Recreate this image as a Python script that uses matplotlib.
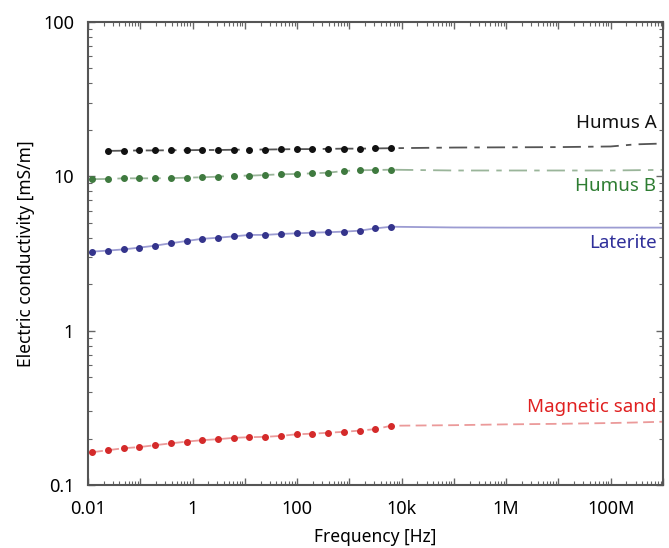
import numpy as np
import matplotlib
matplotlib.use("Agg")
import matplotlib.pyplot as plt
from matplotlib.ticker import LogLocator, FuncFormatter, NullFormatter

plt.rcParams['font.family'] = ['Noto Sans', 'DejaVu Sans']

# measured frequencies (Hz), factor-2 spacing
freq = [0.012, 0.024, 0.048, 0.096, 0.19, 0.38, 0.77, 1.5, 3.1, 6.1,
        12.3, 24.6, 49, 98, 197, 393, 786, 1570, 3150, 6290]

humusA = [None, 14.6, 14.65, 14.7, 14.7, 14.75, 14.75, 14.8, 14.8, 14.85,
          14.9, 14.9, 14.95, 15.0, 15.0, 15.05, 15.1, 15.1, 15.15, 15.2]
humusB = [9.58, 9.61, 9.70, 9.70, 9.70, 9.73, 9.79, 9.85, 9.94, 10.09,
          10.09, 10.19, 10.30, 10.35, 10.45, 10.55, 10.82, 10.94, 10.98, 11.03]
laterite = [3.25, 3.30, 3.36, 3.45, 3.55, 3.68, 3.81, 3.93, 4.00, 4.08,
            4.17, 4.17, 4.23, 4.27, 4.31, 4.34, 4.38, 4.44, 4.60, 4.71]
magsand = [0.163, 0.168, 0.173, 0.176, 0.181, 0.186, 0.191, 0.195, 0.198, 0.202,
           0.204, 0.205, 0.208, 0.213, 0.215, 0.218, 0.221, 0.225, 0.230, 0.242]

# model curves extended to high frequency
fit_freq = [1e4, 1e5, 1e6, 1e7, 1e8, 3e8, 1e9]
fitA = [15.3, 15.35, 15.4, 15.45, 15.6, 16.1, 16.3]
fitB = [10.9, 10.9, 10.9, 10.9, 10.9, 10.95, 11.0]
fitL = [4.68, 4.66, 4.65, 4.65, 4.65, 4.65, 4.65]
fitM = [0.242, 0.244, 0.247, 0.249, 0.252, 0.254, 0.257]

series = [
    ("Humus A", humusA, fitA, "#111111", "#555555", (0, (10, 4, 3, 4)), 22, "#111111"),
    ("Humus B", humusB, fitB, "#3f7a3f", "#9ab59a", (0, (10, 4, 3, 4)), 8.6, "#2e7d32"),
    ("Laterite", laterite, fitL, "#34348c", "#9c9cd2", "-", 3.7, "#2f2f9a"),
    ("Magnetic sand", magsand, fitM, "#d42a2a", "#eb9a9a", (0, (6, 3)), 0.32, "#e02020"),
]

fig = plt.figure(figsize=(6.69, 5.48), dpi=100)
ax = fig.add_axes([0.1315, 0.115, 0.8595, 0.845])

for name, vals, fit, mc, lc, ls, ty, tc in series:
    f = [fr for fr, v in zip(freq, vals) if v is not None]
    v = [vv for vv in vals if vv is not None]
    ax.plot(f + fit_freq[1:], v + fit[1:], color=lc, ls=ls, lw=1.3, zorder=2)
    ax.plot(f, v, ls='none', marker='o', ms=4.0, color=mc, zorder=3)
    ax.text(7.5e8, ty, name, color=tc, fontsize=13.5, ha='right', va='center')

ax.set_xscale('log')
ax.set_yscale('log')
ax.set_xlim(0.01, 1e9)
ax.set_ylim(0.1, 100)

ax.xaxis.set_major_locator(LogLocator(base=10, numticks=30))
ax.xaxis.set_minor_locator(LogLocator(base=10, subs=np.arange(2, 10), numticks=30))
xlabels = {-2: "0.01", 0: "1", 2: "100", 4: "10k", 6: "1M", 8: "100M"}
ax.xaxis.set_major_formatter(FuncFormatter(
    lambda x, p: xlabels.get(int(round(np.log10(x))), "")))
ax.xaxis.set_minor_formatter(NullFormatter())
ylabels = {-1: "0.1", 0: "1", 1: "10", 2: "100"}
ax.yaxis.set_major_formatter(FuncFormatter(
    lambda y, p: ylabels.get(int(round(np.log10(y))), "")))
ax.yaxis.set_minor_formatter(NullFormatter())

ax.tick_params(which='both', direction='in', top=True, right=True, colors='#666666',
               labelcolor='black', labelsize=13)
ax.tick_params(which='major', length=5, width=1)
ax.tick_params(which='minor', length=3, width=0.8)
ax.tick_params(axis='x', pad=11)
ax.tick_params(axis='y', pad=10)
for s in ax.spines.values():
    s.set_color('#555555')
    s.set_linewidth(1.5)

ax.set_xlabel("Frequency [Hz]", fontsize=12.5, labelpad=7)
ax.set_ylabel("Electric conductivity [mS/m]", fontsize=12.5, labelpad=6)

fig.savefig("out.png", dpi=100)
